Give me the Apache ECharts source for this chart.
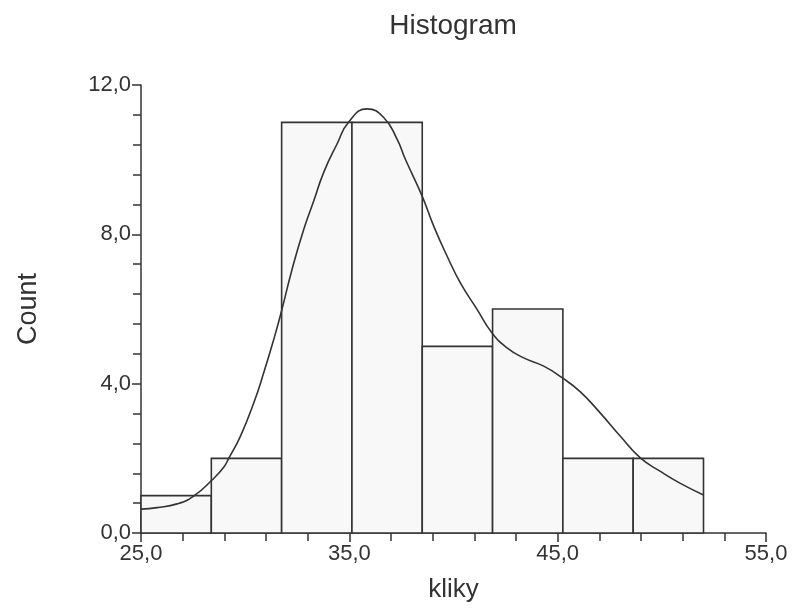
<!DOCTYPE html>
<html>
<head>
<meta charset="utf-8">
<script src="https://cdn.jsdelivr.net/npm/echarts@6/dist/echarts.min.js"></script>
<style>
  html, body { margin: 0; padding: 0; background: #ffffff; }
  #chart { width: 792px; height: 608px; }
</style>
</head>
<body>
<div id="chart"></div>
<script>
// Histogram bins for "kliky": lower/upper edges and counts
const binEdges = [25.0, 28.375, 31.75, 35.125, 38.5, 41.875, 45.25, 48.625, 52.0];
const binCounts = [1, 2, 11, 11, 5, 6, 2, 2];

// Smoothed density curve, scaled to counts
const curveX = [25.0, 25.77, 26.73, 27.53, 28.41, 28.97, 29.21, 29.77, 30.41, 30.89, 31.37, 31.77,
                32.25, 32.81, 33.29, 33.77, 34.41, 34.97, 35.85, 36.65, 37.29, 37.69, 38.49, 39.05,
                39.69, 40.33, 41.13, 41.85, 42.57, 43.37, 44.33, 45.21, 46.09, 47.05, 48.01,
                48.97, 49.93, 50.89, 52.0];
const curveY = [0.64, 0.68, 0.78, 0.99, 1.42, 1.76, 2.00, 2.59, 3.48, 4.29, 5.18, 6.00,
                7.06, 8.13, 8.89, 9.66, 10.42, 11.01, 11.36, 11.13, 10.55, 10.01, 9.03, 8.22,
                7.42, 6.70, 5.99, 5.36, 4.96, 4.69, 4.47, 4.16, 3.78, 3.21, 2.59,
                2.01, 1.65, 1.33, 1.02];

// Axis ranges and tick steps
const xTicks = [25, 35, 45, 55];
const yTicks = [0, 4, 8, 12];

const ink = '#333333';
const textFont = '"Liberation Sans", Arial, Helvetica, sans-serif';
const fmt = v => v.toFixed(1).replace('.', ',');

const barData = binCounts.map((c, i) => [binEdges[i], binEdges[i + 1], c]);
const curveData = curveX.map((x, i) => [x, curveY[i]]);

const chart = echarts.init(document.getElementById('chart'), null, { renderer: 'canvas' });

chart.setOption({
  backgroundColor: '#ffffff',
  animation: false,
  title: {
    text: 'Histogram',
    left: 453,
    top: 12,
    padding: 0,
    textAlign: 'center',
    textStyle: { fontFamily: textFont, fontSize: 28, fontWeight: 'normal', color: ink }
  },
  grid: { left: 141, right: 26, top: 85, bottom: 75, containLabel: false },
  xAxis: {
    type: 'value',
    min: xTicks[0],
    max: xTicks[xTicks.length - 1],
    interval: xTicks[1] - xTicks[0],
    name: 'kliky',
    nameLocation: 'middle',
    nameGap: 44,
    nameTextStyle: { fontFamily: textFont, fontSize: 26, color: ink },
    axisLine: { show: true, onZero: false, lineStyle: { color: ink, width: 1.5 } },
    axisTick: { show: true, inside: false, length: 9, lineStyle: { color: ink, width: 1.5 } },
    minorTick: { show: true, splitNumber: 5, length: 8, lineStyle: { color: ink, width: 1.5 } },
    axisLabel: { margin: 10, fontFamily: textFont, fontSize: 22, color: ink, formatter: fmt },
    splitLine: { show: false }
  },
  yAxis: {
    type: 'value',
    min: yTicks[0],
    max: yTicks[yTicks.length - 1],
    interval: yTicks[1] - yTicks[0],
    name: 'Count',
    nameLocation: 'middle',
    nameGap: 99,
    nameTextStyle: { fontFamily: textFont, fontSize: 27, color: ink },
    axisLine: { show: true, onZero: false, lineStyle: { color: ink, width: 1.5 } },
    axisTick: { show: true, inside: false, length: 9, lineStyle: { color: ink, width: 1.5 } },
    minorTick: { show: true, splitNumber: 5, length: 8, lineStyle: { color: ink, width: 1.5 } },
    axisLabel: { margin: 10, fontFamily: textFont, fontSize: 22, color: ink, formatter: fmt },
    splitLine: { show: false }
  },
  series: [
    {
      type: 'custom',
      name: 'bins',
      data: barData,
      encode: { x: [0, 1], y: 2 },
      z: 2,
      renderItem: function (params, api) {
        const p0 = api.coord([api.value(0), api.value(2)]);
        const p1 = api.coord([api.value(1), 0]);
        return {
          type: 'rect',
          shape: { x: p0[0], y: p0[1], width: p1[0] - p0[0], height: p1[1] - p0[1] },
          style: { fill: '#f8f8f8', stroke: ink, lineWidth: 1.6 }
        };
      }
    },
    {
      type: 'line',
      name: 'density',
      data: curveData,
      smooth: 0.5,
      showSymbol: false,
      symbol: 'none',
      z: 3,
      lineStyle: { color: ink, width: 1.6 }
    }
  ]
});
</script>
</body>
</html>
